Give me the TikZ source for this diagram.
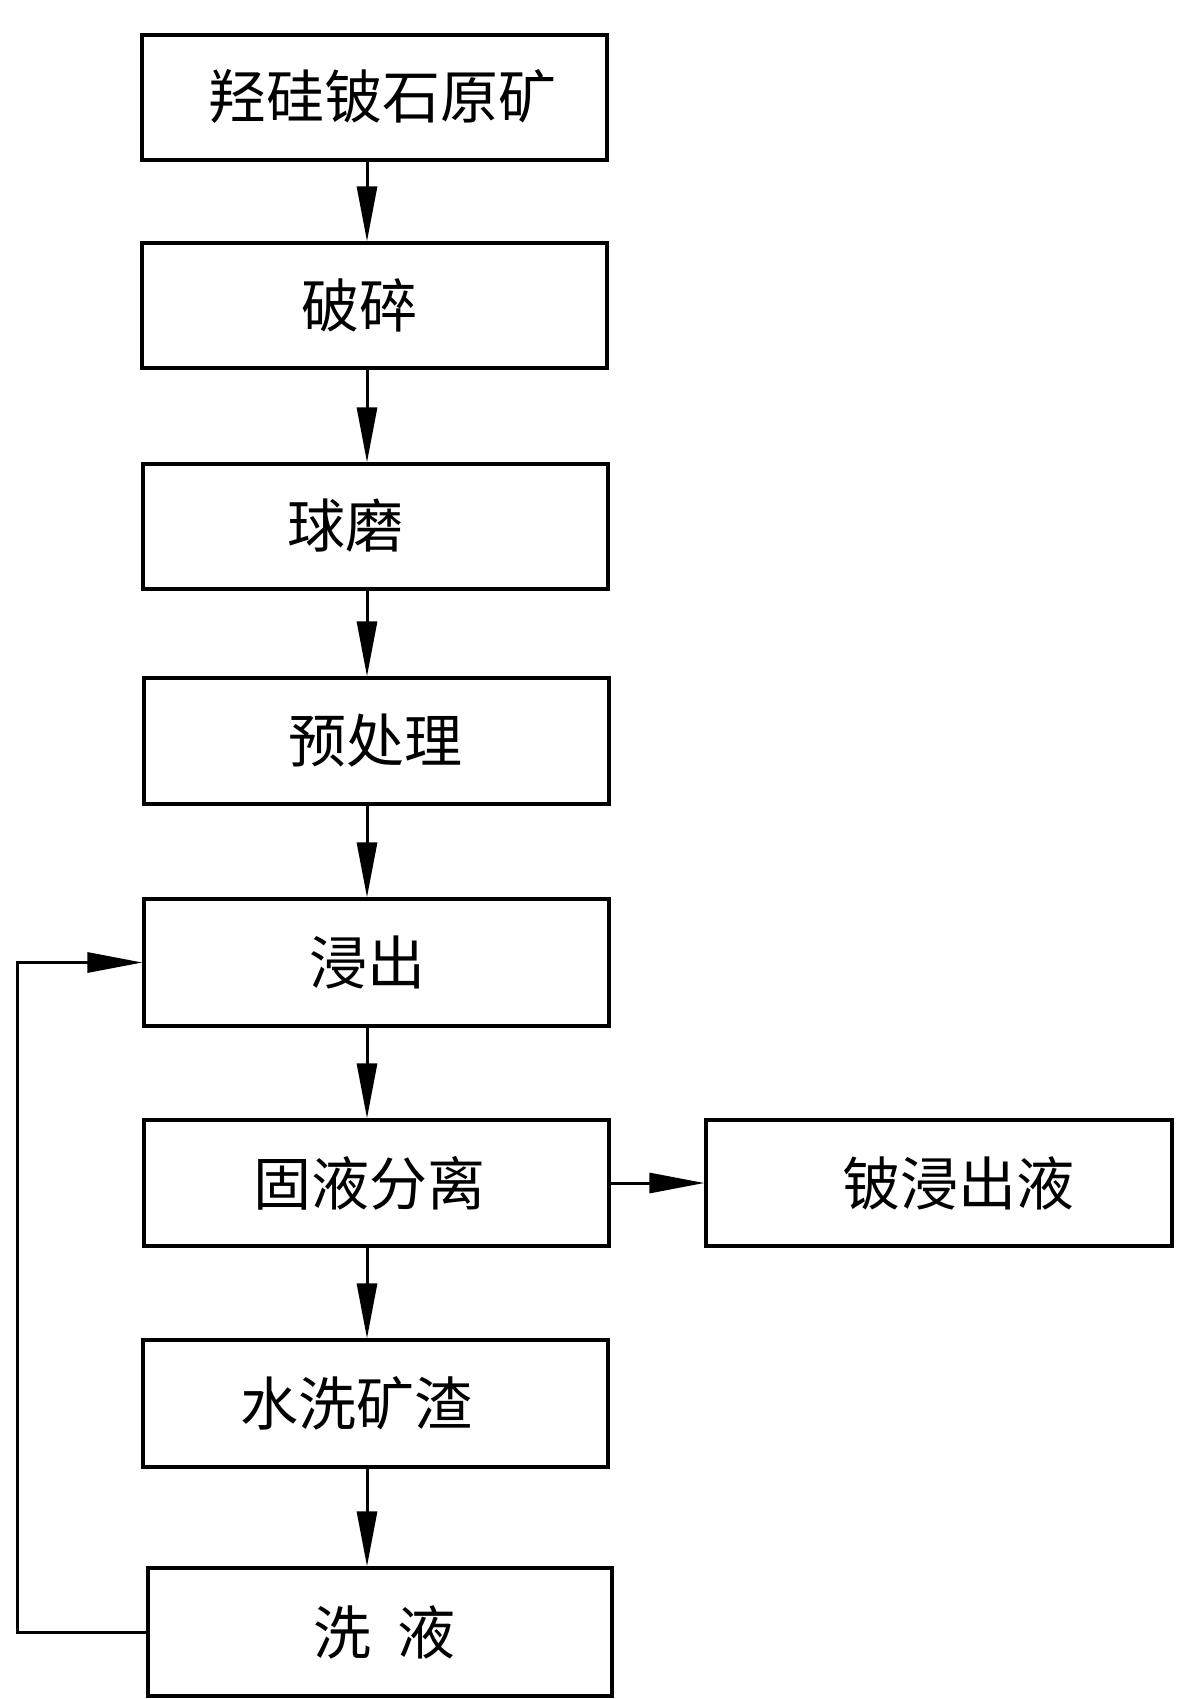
\documentclass[tikz,border=0pt]{standalone}
\usepackage{fontspec}
\newfontfamily\cjk{Noto Sans CJK SC}
\usetikzlibrary{arrows.meta}
\tikzset{
  box/.style={draw, line width=3.2pt, inner sep=0pt, minimum width=465pt, minimum height=125pt},
  txt/.style={font=\cjk\fontsize{58}{62}\selectfont, inner sep=0pt},
  arr/.style={line width=3pt, -{Triangle[length=55pt,width=20pt]}}
}
\begin{document}
\begin{tikzpicture}[x=1pt,y=-1pt]
\useasboundingbox (0,0) rectangle (1182,1699);
\node[box] (b1) at (374.5,97.5) {};
\node[box] (b2) at (374.5,305.5) {};
\node[box] (b3) at (375.5,526.5) {};
\node[box, minimum height=126pt] (b4) at (376.5,741) {};
\node[box, minimum height=127pt] (b5) at (376.5,962.5) {};
\node[box, minimum height=126pt] (b6) at (376.5,1183) {};
\node[box, minimum height=126pt, minimum width=466pt] (b7) at (939,1183) {};
\node[box, minimum height=127pt] (b8) at (375.5,1403.5) {};
\node[box, minimum height=128pt, minimum width=464pt] (b9) at (380,1632) {};
\node[txt] (t1) at (382,97) {羟硅铍石原矿};
\node[txt] (t2) at (359,305) {破碎};
\node[txt] (t3) at (345,526) {球磨};
\node[txt] (t4) at (375,741) {预处理};
\node[txt] (t5) at (367,962) {浸出};
\node[txt] (t6) at (369,1183) {固液分离};
\node[txt] (t7) at (958,1183) {铍浸出液};
\node[txt] (t8) at (356,1403) {水洗矿渣};
\node[txt] (t9) at (385,1632) {洗\hspace{0.45em}液};
\coordinate (ax) at (367,0);
\coordinate (lp) at (17,0);
\draw[arr] (b1.south -| ax) -- (b2.north -| ax);
\draw[arr] (b2.south -| ax) -- (b3.north -| ax);
\draw[arr] (b3.south -| ax) -- (b4.north -| ax);
\draw[arr] (b4.south -| ax) -- (b5.north -| ax);
\draw[arr] (b5.south -| ax) -- (b6.north -| ax);
\draw[arr] (b6.south -| ax) -- (b8.north -| ax);
\draw[arr] (b8.south -| ax) -- (b9.north -| ax);
\draw[arr] (b6.east) -- (b7.west);
\draw[arr] (b9.west) -- (lp |- b9.west) |- (b5.west);
\end{tikzpicture}
\end{document}
